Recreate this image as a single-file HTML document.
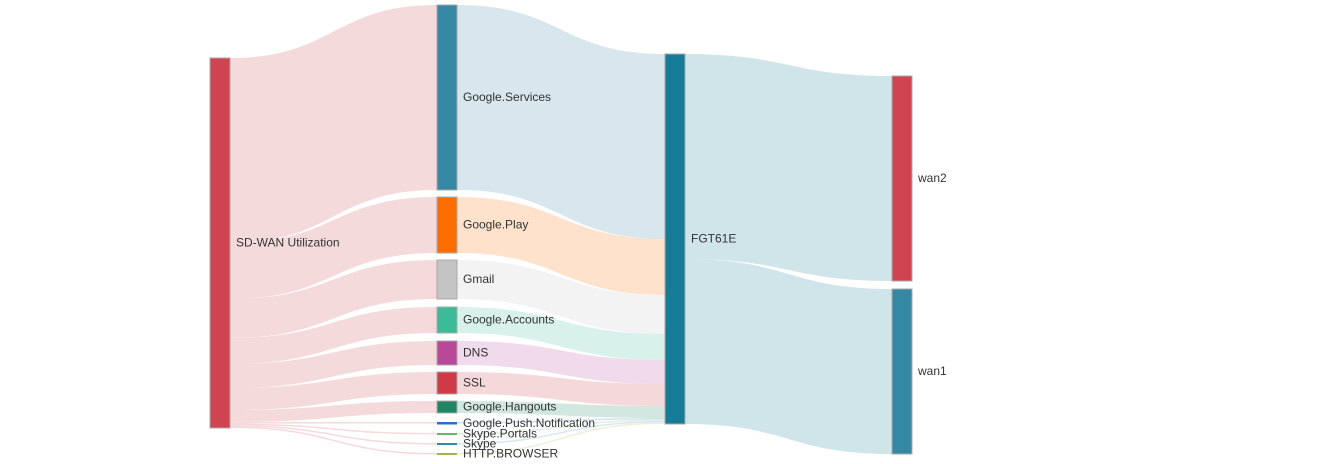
<!DOCTYPE html>
<html><head><meta charset="utf-8"><style>
html,body{margin:0;padding:0;background:#fff;}
svg{display:block;font-family:"Liberation Sans","Microsoft YaHei",sans-serif;}
</style></head><body>
<svg id="s" width="1342" height="464" xmlns="http://www.w3.org/2000/svg"></svg>
<script>
var s=document.getElementById('s');
var mids=[
["Google.Services",5,185,"#3588a4"],
["Google.Play",197,56,"#ff6d00"],
["Gmail",260,39,"#c4c4c4"],
["Google.Accounts",307,26,"#3bbb97"],
["DNS",341,24,"#b9479a"],
["SSL",372,22,"#cf3a47"],
["Google.Hangouts",401,12,"#208565"],
["Google.Push.Notification",422,2.5,"#2a6fc0"],
["Skype.Portals",433,2,"#6bb36b"],
["Skype",443,2,"#2c8fa5"],
["HTTP.BROWSER",453,2,"#a1b44a"]];
var out='';
function link(x0,y0,x1,y1,h,c,o){var xm=(x0+x1)/2;
out+='<path d="M'+x0+' '+y0+'C'+xm+' '+y0+' '+xm+' '+y1+' '+x1+' '+y1+'L'+x1+' '+(y1+h)+'C'+xm+' '+(y1+h)+' '+xm+' '+(y0+h)+' '+x0+' '+(y0+h)+'Z" fill="'+c+'" fill-opacity="'+o+'"/>';}
var sy=58,fy=54;
mids.forEach(function(m){var h=m[2]>3?m[2]:1.5;link(230,sy,437,m[1],h,"#cf4450",0.2);sy+=h;
link(457,m[1],665,fy,h,m[3],0.2);fy+=h;});
link(685,54,892,76,205,"#167b96",0.2);
link(685,259,892,289,165,"#167b96",0.2);
function node(x,y,h,c,label){
if(h>3) out+='<rect x="'+x+'" y="'+y+'" width="20" height="'+h+'" fill="'+c+'" stroke="#aaa" stroke-width="1"/>';
else out+='<rect x="'+x+'" y="'+y+'" width="20" height="'+h+'" fill="'+c+'"/>';
out+='<text x="'+(x+26)+'" y="'+(y+h/2+3.5)+'" font-size="12" fill="#333">'+label+'</text>';}
node(210,58,370,"#cf4450","SD-WAN Utilization");
mids.forEach(function(m){node(437,m[1],m[2],m[3],m[0]);});
node(665,54,370,"#167b96","FGT61E");
node(892,76,205,"#cf4450","wan2");
node(892,289,165,"#3588a4","wan1");
s.innerHTML=out;
</script>
</body></html>
